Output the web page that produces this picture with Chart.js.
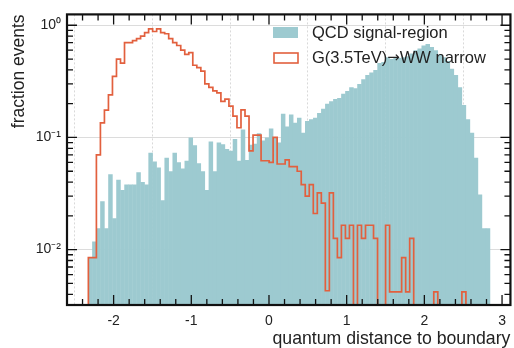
<!DOCTYPE html>
<html>
<head>
<meta charset="utf-8">
<script src="https://cdn.jsdelivr.net/npm/chart.js@4.4.1/dist/chart.umd.min.js"></script>
<style>
  html, body { margin: 0; padding: 0; background: #fff; }
</style>
</head>
<body>
<canvas id="histChart" width="514" height="348"></canvas>
<script>
// ===== histogram binning (100 equal bins) =====
const binStart = -2.325;
const binWidth = 0.0517;

// QCD signal-region, fraction of events per bin
const qcdValues = [
  0.0085, 0.0118, 0.0155, 0.027, 0.0155, 0.047, 0.019, 0.042, 0.034, 0.038,
  0.038, 0.038, 0.049, 0.040, 0.038, 0.073, 0.061, 0.054, 0.0275, 0.066,
  0.050, 0.073, 0.060, 0.053, 0.062, 0.100, 0.085, 0.059, 0.050, 0.034,
  0.092, 0.050, 0.090, 0.087, 0.079, 0.076, 0.097, 0.062, 0.118, 0.063,
  0.086, 0.088, 0.109, 0.094, 0.100, 0.120, 0.100, 0.090, 0.163, 0.125,
  0.160, 0.135, 0.150, 0.110, 0.140, 0.145, 0.150, 0.165, 0.180, 0.200,
  0.210, 0.220, 0.225, 0.245, 0.260, 0.280, 0.275, 0.300, 0.330, 0.360,
  0.380, 0.400, 0.460, 0.470, 0.520, 0.500, 0.520, 0.510, 0.520, 0.530,
  0.560, 0.600, 0.620, 0.660, 0.680, 0.640, 0.600, 0.550, 0.520, 0.480,
  0.410, 0.360, 0.280, 0.195, 0.145, 0.110, 0.066, 0.031, 0.0155, 0.0155
];

// G(3.5TeV) -> WW narrow, fraction of events per bin (0 = empty bin)
const signalValues = [
  0.0085, 0.0085, 0.070, 0.135, 0.175, 0.240, 0.350, 0.500, 0.460, 0.700,
  0.700, 0.730, 0.760, 0.800, 0.860, 0.930, 0.880, 0.930, 0.860, 0.840,
  0.760, 0.700, 0.660, 0.600, 0.550, 0.570, 0.440, 0.420, 0.390, 0.300,
  0.280, 0.260, 0.250, 0.210, 0.220, 0.190, 0.155, 0.122, 0.176, 0.155,
  0.076, 0.105, 0.105, 0.062, 0.062, 0.060, 0.100, 0.058, 0.058, 0.063,
  0.055, 0.055, 0.050, 0.038, 0.030, 0.038, 0.021, 0.032, 0.026, 0.0043,
  0.032, 0.0126, 0.0085, 0.0165, 0.0126, 0.0165, 0, 0.0165, 0.0126, 0.0165,
  0.0165, 0.0126, 0, 0, 0.0165, 0.0042, 0.0042, 0.0042, 0.0085, 0.0042,
  0.0126, 0, 0, 0, 0, 0, 0.0042, 0, 0, 0,
  0, 0, 0, 0.0042, 0, 0, 0, 0, 0, 0
];

const xTickValues = [-2, -1, 0, 1, 2, 3];
const yTickValues = [0.01, 0.1, 1];
const yTickLabels = ['10⁻²', '10⁻¹', '10⁰'];
const legendLabels = ['QCD signal-region', 'G(3.5TeV)→WW narrow'];

const qcdColor = '#9dcad0';
const sigColor = '#e2603e';
const FONT = '"Liberation Sans", Arial, Helvetica, sans-serif';

// ===== build datasets =====
const floorValue = 1e-4; // empty bins go below the visible range
const qcdPoints = qcdValues.map((v, i) => ({ x: binStart + (i + 0.5) * binWidth, y: v }));

const sigPoints = [{ x: binStart, y: floorValue }];
signalValues.forEach((v, i) => {
  sigPoints.push({ x: binStart + i * binWidth, y: v > 0 ? v : floorValue });
});
sigPoints.push({ x: binStart + signalValues.length * binWidth, y: signalValues[signalValues.length - 1] || floorValue });
sigPoints.push({ x: binStart + signalValues.length * binWidth, y: floorValue });

// draw a label, using DejaVu for the arrow so it is full size
function drawLabel(c, text, x, y) {
  const parts = text.split('→');
  let cx = x;
  parts.forEach((p, i) => {
    c.font = '16.5px ' + FONT;
    c.fillText(p, cx, y);
    cx += c.measureText(p).width;
    if (i < parts.length - 1) {
      c.font = '15px "DejaVu Sans", sans-serif';
      c.fillText('→', cx, y);
      cx += c.measureText('→').width;
    }
  });
}

// ===== frame, inner ticks and legend =====
const frameTicks = {
  id: 'frameTicks',
  afterDatasetsDraw(chart) {
    const { ctx, chartArea: a, scales: { x, y } } = chart;
    ctx.save();
    ctx.strokeStyle = '#111';
    ctx.lineWidth = 1.3;
    ctx.beginPath();
    // x ticks every 0.2, long at integers
    for (let k = -15; k <= 16; k++) {
      const px = x.getPixelForValue(k * 0.2);
      if (px <= a.left + 1 || px >= a.right - 1) continue;
      const len = (k % 5 === 0) ? 10 : 6;
      ctx.moveTo(px, a.bottom); ctx.lineTo(px, a.bottom - len);
      ctx.moveTo(px, a.top); ctx.lineTo(px, a.top + len);
    }
    // log ticks
    for (let d = -3; d <= 0; d++) {
      for (let m = 1; m <= 9; m++) {
        const v = m * Math.pow(10, d);
        if (v < y.min || v > y.max) continue;
        const py = y.getPixelForValue(v);
        const len = (m === 1) ? 10 : 6;
        ctx.moveTo(a.left, py); ctx.lineTo(a.left + len, py);
        ctx.moveTo(a.right, py); ctx.lineTo(a.right - len, py);
      }
    }
    ctx.stroke();

    ctx.lineWidth = 2.2;
    ctx.strokeRect(a.left, a.top, a.right - a.left, a.bottom - a.top);

    // legend
    ctx.fillStyle = qcdColor;
    ctx.fillRect(273, 27, 25, 11);
    ctx.strokeStyle = sigColor;
    ctx.lineWidth = 1.6;
    ctx.strokeRect(274, 53, 24, 10);
    ctx.fillStyle = '#222';
    ctx.textBaseline = 'middle';
    drawLabel(ctx, legendLabels[0], 312, 33);
    drawLabel(ctx, legendLabels[1], 312, 58);
    ctx.restore();
  }
};

const ctx = document.getElementById('histChart').getContext('2d');

const histChart = new Chart(ctx, {
  type: 'bar',
  data: {
    datasets: [
      {
        type: 'line',
        label: legendLabels[1],
        data: sigPoints,
        stepped: 'before',
        borderColor: sigColor,
        borderWidth: 1.7,
        pointRadius: 0,
        fill: false,
        tension: 0,
        order: 0
      },
      {
        type: 'bar',
        label: legendLabels[0],
        data: qcdPoints,
        backgroundColor: qcdColor,
        borderWidth: 0,
        barPercentage: 1.12,
        categoryPercentage: 1.0,
        grouped: false,
        order: 1
      }
    ]
  },
  options: {
    responsive: false,
    devicePixelRatio: 1,
    animation: false,
    layout: { padding: { top: 7, right: 3, left: 0, bottom: 0 } },
    plugins: {
      legend: { display: false },
      tooltip: { enabled: false }
    },
    scales: {
      x: {
        type: 'linear',
        min: -2.6,
        max: 3.108,
        offset: false,
        afterFit: s => { s.height = 43; },
        afterBuildTicks: s => { s.ticks = xTickValues.map(v => ({ value: v })); },
        grid: { color: '#d9d9d9', lineWidth: 1, drawTicks: false },
        border: { display: false, dash: [2, 2] },
        ticks: {
          autoSkip: false,
          maxRotation: 0,
          padding: 8,
          color: '#222',
          font: { family: FONT, size: 14 }
        },
        title: {
          display: true,
          text: 'quantum distance to boundary',
          align: 'end',
          color: '#222',
          font: { family: FONT, size: 17.7, lineHeight: 1 },
          padding: { top: 0, bottom: 0 }
        }
      },
      y: {
        type: 'logarithmic',
        min: 0.00321,
        max: 1.25,
        afterFit: s => { s.width = 67; },
        afterBuildTicks: s => { s.ticks = yTickValues.map(v => ({ value: v })); },
        grid: { color: '#dcdcdc', lineWidth: 1, drawTicks: false },
        border: { display: false },
        ticks: {
          autoSkip: false,
          padding: 6,
          color: '#222',
          font: { family: FONT, size: 14 },
          callback: (value, index) => yTickLabels[index]
        },
        title: {
          display: true,
          text: 'fraction events',
          align: 'end',
          color: '#222',
          font: { family: FONT, size: 17.5, lineHeight: 1 },
          padding: { top: 10, bottom: 0 }
        }
      }
    }
  },
  plugins: [frameTicks]
});
</script>
</body>
</html>
